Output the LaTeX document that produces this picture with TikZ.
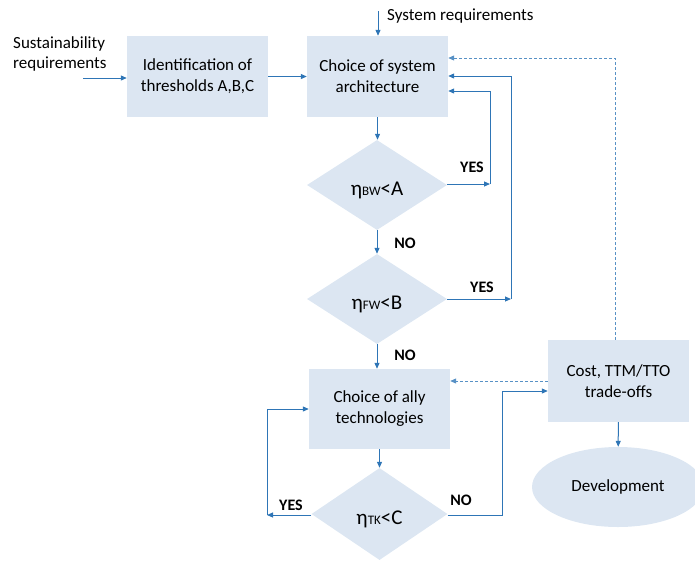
\documentclass[tikz,border=0pt]{standalone}
\usepackage{fontspec}
\setmainfont{Carlito}
\usetikzlibrary{shapes.geometric,arrows.meta}
\definecolor{boxfill}{HTML}{DCE6F2}
\definecolor{arrowblue}{HTML}{2E75B6}
\begin{document}
\begin{tikzpicture}[x=1pt,y=-1pt,
  box/.style={fill=boxfill, minimum width=141pt, minimum height=81pt, align=center, inner sep=0pt, font=\fontsize{17}{21}\selectfont},
  dia/.style={diamond, fill=boxfill, aspect=1.55, minimum width=140pt, minimum height=90pt, inner sep=0pt, text height=20pt, text depth=0pt, font=\fontsize{21}{24}\selectfont},
  conn/.style={draw=arrowblue, line width=1pt, -{Triangle[length=6pt,width=5pt]}},
  dconn/.style={conn, draw=arrowblue!80, dash pattern=on 3pt off 2pt},
  lab/.style={font=\bfseries\fontsize{16}{18}\selectfont},
  txt/.style={font=\fontsize{17}{20}\selectfont, inner sep=0pt}
]
\useasboundingbox (0,0) rectangle (695,563);
\clip (0,0) rectangle (695,563);
\newcommand{\subtxt}[1]{{\fontsize{13}{14}\selectfont #1}}

% nodes
\node[txt, align=left, anchor=west] (sus) at (13,54) {Sustainability\\requirements};
\node[box] (thr) at (197.5,76.5) {Identification of\\thresholds A,B,C};
\node[box] (arch) at (377.5,76.5) {Choice of system\\architecture};
\node[txt, anchor=west] (sysreq) at (387,16) {System requirements};
\node[dia] (d1) at (377,185) {η\subtxt{BW}<A};
\node[dia] (d2) at (377,299) {η\subtxt{FW}<B};
\node[box, minimum height=80pt] (ally) at (379.5,409) {Choice of ally\\technologies};
\node[dia, minimum width=136pt, minimum height=92pt] (d3) at (379.5,514) {η\subtxt{TK}<C};
\node[box, minimum height=82pt] (cost) at (618.5,381) {Cost, TTM/TTO\\trade-offs};
\node[ellipse, fill=boxfill, minimum width=172pt, minimum height=80pt, inner sep=0pt, font=\fontsize{17}{20}\selectfont] (dev) at (618,487) {Development};

% labels
\node[lab] (l1) at (472,167) {YES};
\node[lab] (l2) at (405,243) {NO};
\node[lab] (l3) at (482,287) {YES};
\node[lab] (l4) at (405,355) {NO};
\node[lab] (l5) at (291,505) {YES};
\node[lab] (l6) at (461,500) {NO};

% coordinates
\coordinate (susin) at (83,78);
\coordinate (sysin) at (378,11);
\coordinate (y1) at (490,184);
\coordinate (y1t) at (490,91);
\coordinate (y2) at (511,299);
\coordinate (y2t) at (511,76);
\coordinate (dt) at (615,58);
\coordinate (y3) at (267,515);
\coordinate (n3) at (502,515);
\coordinate (n3t) at (502,391);

% connectors
\draw[conn] (susin) -- (susin -| thr.west);
\draw[conn] (sysin) -- (sysin |- arch.north);
\draw[conn] (thr) -- (arch);
\draw[conn] (arch.south) -- (arch.south |- d1.north);
\draw[conn] (d1.east |- y1) -- (y1);
\draw[conn] (y1) -- (y1t) -- (y1t -| arch.east);
\draw[conn] (d1) -- (d2);
\draw[conn] (d2.east) -- (y2);
\draw[conn] (y2) -- (y2t) -- (y2t -| arch.east);
\draw[dconn] (cost.north -| dt) -- (dt) -- (dt -| arch.east);
\draw[conn] (d2.south) -- (d2.south |- ally.north);
\draw[conn] (ally) -- (d3);
\draw[conn] (d3.west |- y3) -- (y3);
\draw[conn] (y3) -- (y3 |- ally.west) -- (ally.west);
\draw[conn] (d3.east |- n3) -- (n3) -- (n3t) -- (n3t -| cost.west);
\draw[dconn] (cost.west) -- (cost.west -| ally.east);
\draw[conn] (cost) -- (dev);
\end{tikzpicture}
\end{document}
